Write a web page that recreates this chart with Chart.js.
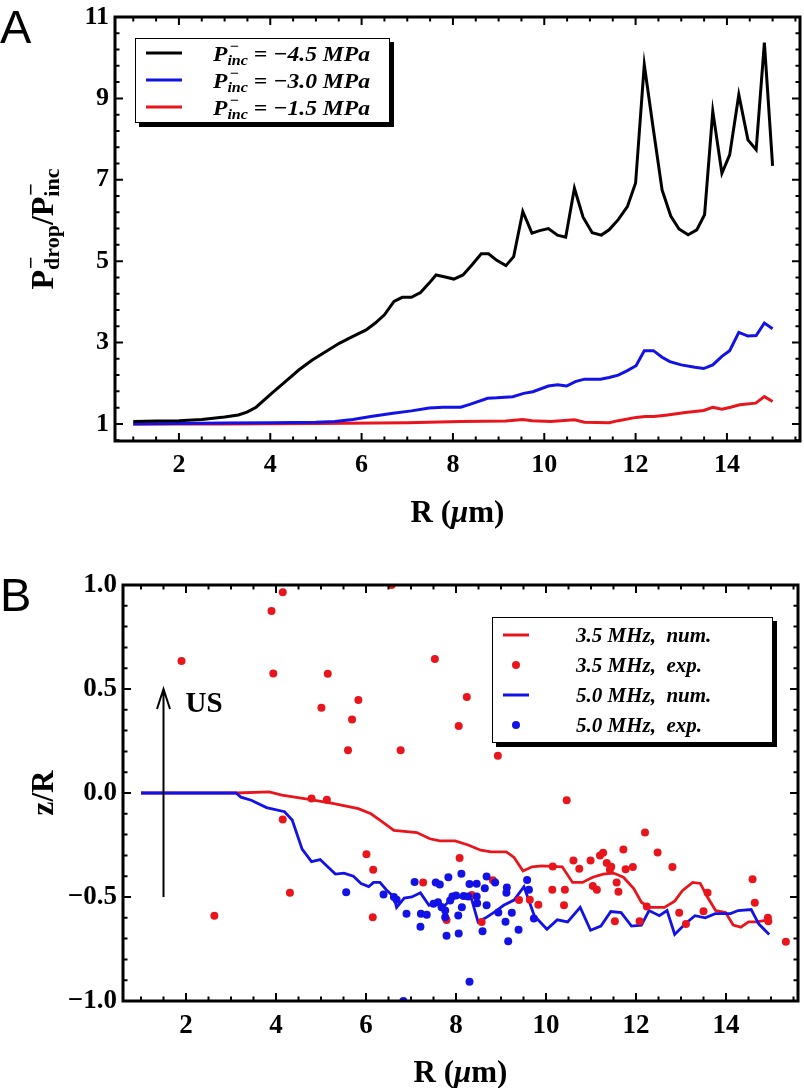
<!DOCTYPE html>
<html><head><meta charset="utf-8">
<script src="https://cdn.jsdelivr.net/npm/chart.js@4/dist/chart.umd.min.js"></script>
<style>
html,body{margin:0;padding:0;background:#fff;}
#wrap{position:relative;width:804px;height:1088px;overflow:hidden;background:#fff;}
canvas{position:absolute;left:0;}
</style></head><body>
<div id="wrap">
<canvas id="cA" width="804" height="544" style="top:0px"></canvas>
<canvas id="cB" width="804" height="544" style="top:544px"></canvas>
</div>
<script>
// ---------------- Panel A data ----------------
const rBlack=[1,1.5,2,2.5,3,3.3,3.49,3.69,4.03,4.33,4.63,4.92,5.22,5.51,5.81,6.10,6.30,6.50,6.71,6.89,7.09,7.29,7.48,7.63,7.83,8.02,8.22,8.42,8.62,8.78,8.96,9.16,9.33,9.53,9.73,9.90,10.09,10.29,10.47,10.66,10.85,11.05,11.25,11.42,11.62,11.82,12.00,12.19,12.39,12.58,12.77,12.95,13.15,13.34,13.51,13.69,13.89,14.06,14.26,14.46,14.64,14.82,15.0];
const pBlack=[1.06,1.07,1.08,1.11,1.17,1.22,1.29,1.41,1.75,2.04,2.33,2.57,2.78,2.98,3.15,3.31,3.48,3.68,4.01,4.11,4.11,4.23,4.46,4.66,4.61,4.56,4.66,4.91,5.18,5.18,5.02,4.89,5.11,6.22,5.69,5.75,5.80,5.64,5.59,6.79,6.08,5.70,5.64,5.77,6.02,6.34,6.92,9.83,8.23,6.75,6.11,5.79,5.65,5.77,6.14,8.68,7.16,7.61,9.09,7.98,7.74,10.37,7.34];
const rBlue=[1,2,3,4,5,5.41,5.81,6.20,6.69,7.09,7.48,7.78,8.17,8.37,8.76,8.96,9.31,9.55,9.75,10.09,10.29,10.49,10.68,10.88,11.23,11.42,11.62,11.82,12.01,12.19,12.39,12.58,12.75,13.00,13.30,13.49,13.69,13.89,14.06,14.26,14.46,14.64,14.82,15.0];
const pBlue=[1.0,1.01,1.02,1.03,1.04,1.06,1.11,1.18,1.26,1.32,1.39,1.41,1.41,1.48,1.63,1.64,1.67,1.75,1.79,1.93,1.96,1.93,2.04,2.10,2.10,2.14,2.20,2.31,2.43,2.80,2.80,2.64,2.53,2.45,2.39,2.36,2.45,2.66,2.80,3.25,3.16,3.17,3.48,3.34];
const rRed=[1,3,5,7,8.17,9.16,9.53,9.73,10.14,10.66,10.88,11.42,11.62,12.01,12.21,12.40,12.70,13.09,13.49,13.69,13.89,14.08,14.28,14.63,14.82,15.0];
const pRed=[1.0,1.0,1.01,1.03,1.06,1.07,1.11,1.08,1.06,1.10,1.04,1.03,1.08,1.16,1.18,1.18,1.22,1.28,1.33,1.41,1.36,1.41,1.47,1.51,1.67,1.55];
const pIncValues=['−4.5','−3.0','−1.5'];
const xTicksA=[2,4,6,8,10,12,14];
const yTicksA=[1,3,5,7,9,11];

// ---------------- Panel B data ----------------
const rNum35=[1,3.11,3.85,4.13,4.70,5.26,5.83,6.11,6.34,6.62,6.85,7.13,7.42,7.64,7.98,8.27,8.55,8.78,9.12,9.29,9.49,9.69,9.91,10.36,10.59,10.81,11.04,11.27,11.50,11.72,11.95,12.12,12.29,12.63,12.86,13.03,13.26,13.43,13.60,13.77,13.99,14.16,14.33,14.50,14.67,14.96];
const zNum35=[0,0,0.005,-0.01,-0.03,-0.05,-0.075,-0.10,-0.135,-0.18,-0.185,-0.19,-0.22,-0.23,-0.23,-0.25,-0.275,-0.283,-0.283,-0.31,-0.375,-0.355,-0.35,-0.355,-0.43,-0.43,-0.405,-0.39,-0.385,-0.405,-0.46,-0.525,-0.55,-0.55,-0.52,-0.47,-0.43,-0.435,-0.505,-0.565,-0.575,-0.635,-0.645,-0.62,-0.62,-0.61];
const rNum50=[1,3.11,3.22,3.45,3.79,4.19,4.36,4.58,4.79,4.98,5.32,5.51,5.72,5.89,6.06,6.17,6.31,6.45,6.62,6.68,6.85,7.02,7.21,7.40,7.53,7.76,7.96,8.15,8.32,8.49,8.66,8.87,9.06,9.29,9.51,9.74,10.02,10.25,10.48,10.76,10.99,11.22,11.44,11.67,11.90,12.12,12.29,12.52,12.69,12.86,13.09,13.31,13.54,13.76,14.10,14.27,14.56,14.73,14.96];
const zNum50=[0,0,-0.02,-0.035,-0.07,-0.09,-0.13,-0.27,-0.33,-0.32,-0.39,-0.385,-0.40,-0.435,-0.45,-0.43,-0.43,-0.465,-0.50,-0.55,-0.505,-0.50,-0.48,-0.54,-0.53,-0.54,-0.49,-0.505,-0.49,-0.62,-0.60,-0.57,-0.54,-0.515,-0.45,-0.59,-0.655,-0.61,-0.62,-0.55,-0.66,-0.64,-0.57,-0.575,-0.64,-0.635,-0.565,-0.59,-0.565,-0.68,-0.63,-0.59,-0.60,-0.58,-0.58,-0.565,-0.56,-0.63,-0.68];
const rExp35=[1.90,3.90,4.15,3.94,6.57,5.15,5.01,5.83,5.69,5.60,6.77,7.53,8.24,8.06,8.93,4.79,5.13,4.15,10.46,4.31,2.63,6.01,6.16,6.15,7.27,8.08,7.79,8.35,8.57,8.82,9.40,9.64,9.83,10.15,10.14,10.42,10.40,10.61,10.74,10.99,11.20,11.27,11.35,11.42,11.45,11.57,11.61,11.04,11.13,11.72,11.77,11.93,11.53,12.08,12.24,12.20,12.48,12.81,12.96,13.11,13.50,13.59,14.59,14.64,14.93,14.94,15.33];
const zExp35=[0.635,0.875,0.965,0.575,1.0,0.573,0.41,0.447,0.353,0.205,0.205,0.644,0.461,0.322,0.179,-0.026,-0.032,-0.127,-0.035,-0.48,-0.59,-0.295,-0.369,-0.597,-0.43,-0.313,-0.61,-0.49,-0.62,-0.42,-0.515,-0.513,-0.537,-0.353,-0.465,-0.465,-0.54,-0.324,-0.364,-0.324,-0.30,-0.287,-0.337,-0.369,-0.355,-0.43,-0.475,-0.447,-0.465,-0.272,-0.366,-0.356,-0.617,-0.617,-0.546,-0.19,-0.286,-0.356,-0.576,-0.63,-0.568,-0.48,-0.415,-0.528,-0.60,-0.617,-0.715];
const rExp50=[5.56,6.39,6.62,6.68,6.90,7.08,7.22,7.35,7.21,7.55,7.64,7.50,7.60,7.68,7.76,7.76,7.83,7.79,7.87,7.92,8.00,8.05,8.06,8.12,8.13,8.17,8.27,8.30,8.30,8.46,8.46,8.47,8.59,8.64,8.68,8.68,8.87,8.94,9.10,9.13,9.12,9.16,9.24,9.39,9.58,9.62,9.73,6.83];
const zExp50=[-0.477,-0.488,-0.50,-0.513,-0.581,-0.428,-0.581,-0.585,-0.643,-0.43,-0.44,-0.533,-0.525,-0.549,-0.565,-0.597,-0.405,-0.686,-0.517,-0.498,-0.493,-0.589,-0.675,-0.388,-0.549,-0.495,-0.498,-0.438,-0.908,-0.436,-0.498,-0.53,-0.665,-0.458,-0.402,-0.54,-0.43,-0.575,-0.619,-0.454,-0.48,-0.713,-0.576,-0.658,-0.418,-0.465,-0.603,-1.0];
const legendB=['3.5 MHz,  num.','3.5 MHz,  exp.','5.0 MHz,  num.','5.0 MHz,  exp.'];
const xTicksB=[2,4,6,8,10,12,14];
const yTicksB=[-1,-0.5,0,0.5,1];

// ---------------- styling ----------------
const SERIF='"Liberation Serif","Times New Roman",Times,serif';
const SANS='"Liberation Sans",Arial,Helvetica,sans-serif';
const RED='#e8161c', BLUE='#1212e6', BLACK='#000000';

const pts=(xs,ys)=>xs.map((x,i)=>({x:x,y:ys[i]}));
const f=(style,size)=>style+' '+size+'px '+SERIF;

function richWidth(ctx,items){
  let w=0;
  for(const it of items){
    if(it.stack){let m=0;for(const s of it.stack){ctx.font=s.font;m=Math.max(m,ctx.measureText(s.t).width+(s.dx||0));}w+=m;}
    else{ctx.font=it.font;w+=ctx.measureText(it.t).width+(it.dx||0);}
  }
  return w;
}
function richDraw(ctx,items,x,y){
  ctx.textAlign='left';ctx.textBaseline='alphabetic';ctx.fillStyle='#000';
  for(const it of items){
    if(it.stack){let m=0;for(const s of it.stack){ctx.font=s.font;ctx.fillText(s.t,x+(s.dx||0),y+(s.dy||0));m=Math.max(m,ctx.measureText(s.t).width+(s.dx||0));}x+=m;}
    else{ctx.font=it.font;ctx.fillText(it.t,x+(it.dx||0),y+(it.dy||0));x+=ctx.measureText(it.t).width+(it.dx||0);}
  }
}
function richFit(ctx,items,x,y,target){
  const w=richWidth(ctx,items);const k=target/w;
  ctx.save();ctx.translate(x,y);ctx.scale(k,1);richDraw(ctx,items,0,0);ctx.restore();
}
function minorList(start,step,count,majors,lo,hi){
  const out=[];
  for(let k=0;k<count;k++){const v=+(start+k*step).toFixed(4);if(v<lo||v>hi)continue;if(majors.some(m=>Math.abs(m-v)<1e-6))continue;out.push(v);}
  return out;
}
function drawFrameTicks(chart,xMaj,xMin,yMaj,yMin){
  const ctx=chart.ctx,a=chart.chartArea,sx=chart.scales.x,sy=chart.scales.y;
  const MAJ=8,MIN=4.5;
  ctx.save();ctx.strokeStyle='#000';ctx.lineWidth=2;ctx.beginPath();
  const vx=(v,l)=>{const p=sx.getPixelForValue(v);ctx.moveTo(p,a.bottom);ctx.lineTo(p,a.bottom-l);ctx.moveTo(p,a.top);ctx.lineTo(p,a.top+l);};
  const vy=(v,l)=>{const p=sy.getPixelForValue(v);ctx.moveTo(a.left,p);ctx.lineTo(a.left+l,p);ctx.moveTo(a.right,p);ctx.lineTo(a.right-l,p);};
  xMaj.forEach(v=>vx(v,MAJ));xMin.forEach(v=>vx(v,MIN));yMaj.forEach(v=>vy(v,MAJ));yMin.forEach(v=>vy(v,MIN));
  ctx.stroke();
  ctx.lineWidth=3;ctx.strokeRect(a.left,a.top,a.right-a.left,a.bottom-a.top);
  ctx.restore();
}
function legendBox(ctx,x,y,w,h){
  ctx.save();ctx.fillStyle='#000';ctx.fillRect(x+4,y+4,w,h);
  ctx.fillStyle='#fff';ctx.fillRect(x,y,w,h);
  ctx.strokeStyle='#000';ctx.lineWidth=1;ctx.strokeRect(x+0.5,y+0.5,w-1,h-1);ctx.restore();
}
function xTitle(ctx,cx,base,size){
  const items=[{t:'R (',font:f('bold',size)},{t:'μ',font:f('italic bold',size)},{t:'m)',font:f('bold',size)}];
  const w=richWidth(ctx,items);richDraw(ctx,items,cx-w/2,base);
}
function mkScale(min,max,ticks,fmt,size,pad,isX,box){
  return {type:'linear',min:min,max:max,bounds:'data',position:isX?'bottom':'left',
    grid:{display:false,drawTicks:false,tickLength:0},border:{display:false},
    title:{display:false},
    ticks:{color:'#000',font:{family:SERIF,weight:'bold',size:size},padding:pad,autoSkip:false,maxRotation:0,minRotation:0,callback:(v)=>fmt(v)},
    afterBuildTicks:(s)=>{s.ticks=ticks.map(v=>({value:v}));},
    afterFit:(s)=>{if(isX)s.height=box;else s.width=box;s.paddingLeft=0;s.paddingRight=0;s.paddingTop=0;s.paddingBottom=0;}
  };
}

// ---------------- Chart A ----------------
const decoA={id:'decoA',afterDraw(chart){
  const ctx=chart.ctx,a=chart.chartArea;
  drawFrameTicks(chart,xTicksA,minorList(1,0.5,31,xTicksA,0.6,15.6),yTicksA,minorList(0.6,0.4,27,yTicksA,0.58,11));
  // legend
  legendBox(ctx,135,38,255,85);
  const cols=[BLACK,BLUE,RED];
  cols.forEach((c,i)=>{
    const ym=53+27*i;
    ctx.save();ctx.strokeStyle=c;ctx.lineWidth=3;ctx.beginPath();ctx.moveTo(146,ym);ctx.lineTo(182,ym);ctx.stroke();ctx.restore();
    richFit(ctx,[{t:'P',font:f('italic bold',22)},{stack:[{t:'−',font:f('italic bold',15),dy:-10,dx:2},{t:'inc',font:f('italic bold',15),dy:4}]},{t:' = '+pIncValues[i]+' MPa',font:f('italic bold',22)}],213,ym+8,157);
  });
  // panel letter
  ctx.save();ctx.fillStyle='#000';ctx.font='47px '+SANS;ctx.textAlign='left';ctx.textBaseline='alphabetic';ctx.fillText('A',0,43);ctx.restore();
  // y title (centred on frame)
  const yt=[{t:'P',font:f('bold',32)},{stack:[{t:'−',font:f('bold',22),dy:-15,dx:1},{t:'drop',font:f('bold',22),dy:6}]},{t:'/P',font:f('bold',32)},{stack:[{t:'−',font:f('bold',22),dy:-15,dx:1},{t:'inc',font:f('bold',22),dy:6}]}];
  const w=richWidth(ctx,yt);
  ctx.save();ctx.translate(53,(a.top+a.bottom)/2+w/2);ctx.rotate(-Math.PI/2);richDraw(ctx,yt,0,0);ctx.restore();
  xTitle(ctx,(a.left+a.right)/2,522,31);
}};
new Chart(document.getElementById('cA'),{
  type:'line',
  data:{datasets:[
    {label:'P_inc = −4.5 MPa',data:pts(rBlack,pBlack),borderColor:BLACK,borderWidth:3,pointRadius:0,tension:0,fill:false},
    {label:'P_inc = −3.0 MPa',data:pts(rBlue,pBlue),borderColor:BLUE,borderWidth:3,pointRadius:0,tension:0,fill:false},
    {label:'P_inc = −1.5 MPa',data:pts(rRed,pRed),borderColor:RED,borderWidth:3,pointRadius:0,tension:0,fill:false}
  ]},
  options:{responsive:false,animation:false,events:[],devicePixelRatio:1,
    layout:{autoPadding:false,padding:{left:0,top:17,right:4,bottom:0}},
    plugins:{legend:{display:false},tooltip:{enabled:false}},
    scales:{
      x:mkScale(0.6,15.6,xTicksA,v=>String(v),26,9,true,103),
      y:mkScale(0.58,11,yTicksA,v=>String(v),26,6,false,115)
    }},
  plugins:[decoA]
});

// ---------------- Chart B ----------------
const decoB={id:'decoB',afterDraw(chart){
  const ctx=chart.ctx,a=chart.chartArea,sx=chart.scales.x,sy=chart.scales.y;
  drawFrameTicks(chart,xTicksB,minorList(1,0.5,31,xTicksB,0.6,15.6),yTicksB,minorList(-0.9,0.1,19,yTicksB,-1,1));
  // US arrow
  const ax=sx.getPixelForValue(1.5),y0=sy.getPixelForValue(-0.5),y1=sy.getPixelForValue(0.5);
  ctx.save();ctx.strokeStyle='#000';ctx.lineWidth=2;ctx.beginPath();
  ctx.moveTo(ax,y0);ctx.lineTo(ax,y1);ctx.moveTo(ax-6.5,y1+20);ctx.lineTo(ax,y1);ctx.lineTo(ax+6.5,y1+20);ctx.stroke();
  ctx.fillStyle='#000';ctx.font=f('bold',29);ctx.textAlign='left';ctx.textBaseline='alphabetic';ctx.fillText('US',ax+22,y1+23);ctx.restore();
  // legend
  legendBox(ctx,492,73,281,126);
  const kinds=[['line',RED],['dot',RED],['line',BLUE],['dot',BLUE]];
  kinds.forEach((k,i)=>{
    const ym=91+30*i;
    ctx.save();
    if(k[0]==='line'){ctx.strokeStyle=k[1];ctx.lineWidth=3;ctx.beginPath();ctx.moveTo(503,ym);ctx.lineTo(529,ym);ctx.stroke();}
    else{ctx.fillStyle=k[1];ctx.beginPath();ctx.arc(516,ym,4,0,Math.PI*2);ctx.fill();}
    ctx.restore();
    richDraw(ctx,[{t:legendB[i],font:f('italic bold',21)}],576,ym+7);
  });
  // panel letter
  ctx.save();ctx.fillStyle='#000';ctx.font='47px '+SANS;ctx.textAlign='left';ctx.textBaseline='alphabetic';ctx.fillText('B',0,67);ctx.restore();
  // y title
  const yt=[{t:'z/R',font:f('bold',31)}];
  const w=richWidth(ctx,yt);
  ctx.save();ctx.translate(53,(a.top+a.bottom)/2+w/2);ctx.rotate(-Math.PI/2);richDraw(ctx,yt,0,0);ctx.restore();
  xTitle(ctx,(a.left+a.right)/2,538,31);
}};
const fmtB=v=>v.toFixed(1).replace('-','−');
new Chart(document.getElementById('cB'),{
  type:'line',
  data:{datasets:[
    {label:'5.0 MHz, exp.',data:pts(rExp50,zExp50),showLine:false,pointRadius:4,pointBorderWidth:0,pointBackgroundColor:BLUE,pointBorderColor:BLUE,clip:0},
    {label:'3.5 MHz, exp.',data:pts(rExp35,zExp35),showLine:false,pointRadius:4,pointBorderWidth:0,pointBackgroundColor:RED,pointBorderColor:RED,clip:0},
    {label:'5.0 MHz, num.',data:pts(rNum50,zNum50),borderColor:BLUE,borderWidth:2.8,pointRadius:0,tension:0,fill:false,clip:0},
    {label:'3.5 MHz, num.',data:pts(rNum35,zNum35),borderColor:RED,borderWidth:2.8,pointRadius:0,tension:0,fill:false,clip:0}
  ]},
  options:{responsive:false,animation:false,events:[],devicePixelRatio:1,
    layout:{autoPadding:false,padding:{left:0,top:41,right:6,bottom:0}},
    plugins:{legend:{display:false},tooltip:{enabled:false}},
    scales:{
      x:mkScale(0.6,15.6,xTicksB,v=>String(v),27,9,true,87),
      y:mkScale(-1,1,yTicksB,fmtB,27,6,false,123)
    }},
  plugins:[decoB]
});
</script>
</body></html>
